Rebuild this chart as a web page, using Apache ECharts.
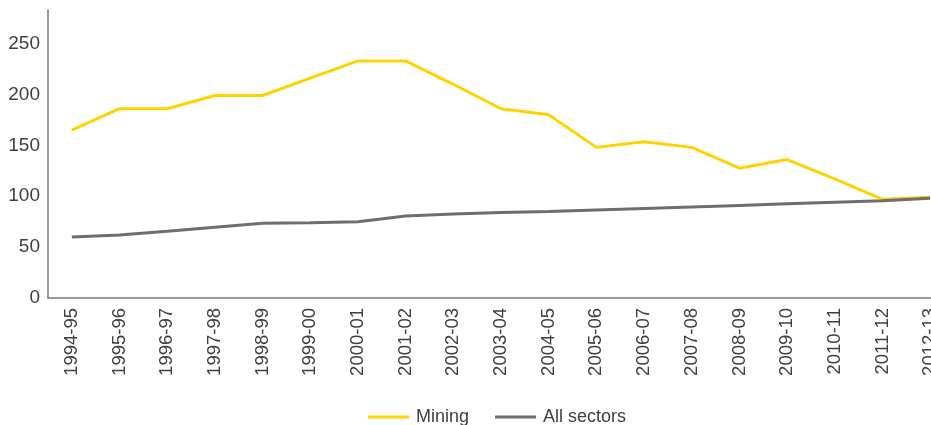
<!DOCTYPE html>
<html>
<head>
<meta charset="utf-8">
<script src="https://cdn.jsdelivr.net/npm/echarts@6/dist/echarts.min.js"></script>
<style>html,body{margin:0;padding:0;background:#fff}#c{width:931px;height:425px}</style>
</head>
<body>
<div id="c"></div>
<script>
const categories = ['1994-95','1995-96','1996-97','1997-98','1998-99','1999-00','2000-01','2001-02','2002-03','2003-04','2004-05','2005-06','2006-07','2007-08','2008-09','2009-10','2010-11','2011-12','2012-13'];
const mining = [165,186,186,199,199,216,233,233,210,186,180,148,153.5,148,127.5,136,117,97,99];
const allSectors = [60,62,65.5,69.5,73.5,74,75,80.5,82.5,84,85,86.5,88,89.5,91,92.5,94,95.5,98];
const yTicks = [0,50,100,150,200,250];

const font = 'Liberation Sans';
const txt = '#404040';
const chart = echarts.init(document.getElementById('c'), null, {renderer:'canvas'});
chart.setOption({
  animation:false,
  grid:{left:48, top:10, width:906, height:288, containLabel:false, outerBoundsMode:'none'},
  legend:{
    left:363, top:403, itemWidth:41, itemHeight:3, itemGap:26,
    icon:'rect',
    textStyle:{fontFamily:font, fontSize:18, color:txt, padding:[0,0,0,2]},
    data:['Mining','All sectors']
  },
  xAxis:{
    type:'category', data:categories, boundaryGap:true,
    axisLine:{lineStyle:{color:'#7a7a7a', width:1.5}},
    axisTick:{show:false},
    axisLabel:{rotate:90, margin:10, interval:0, fontFamily:font, fontSize:18.5, color:txt}
  },
  yAxis:{
    type:'value', min:0, max:283, interval:50,
    splitLine:{show:false},
    axisLine:{show:true, lineStyle:{color:'#7a7a7a', width:1.5}},
    axisTick:{show:false},
    axisLabel:{margin:8, fontFamily:font, fontSize:19, color:txt, showMaxLabel:false,
      formatter:v => yTicks.includes(v) ? String(v) : ''}
  },
  series:[
    {name:'Mining', type:'line', data:mining, symbol:'none', color:'#FFD200',
     lineStyle:{width:3, color:'#FFD200'}},
    {name:'All sectors', type:'line', data:allSectors, symbol:'none', color:'#6E6E6E',
     lineStyle:{width:3, color:'#6E6E6E'}}
  ]
});
</script>
</body>
</html>
